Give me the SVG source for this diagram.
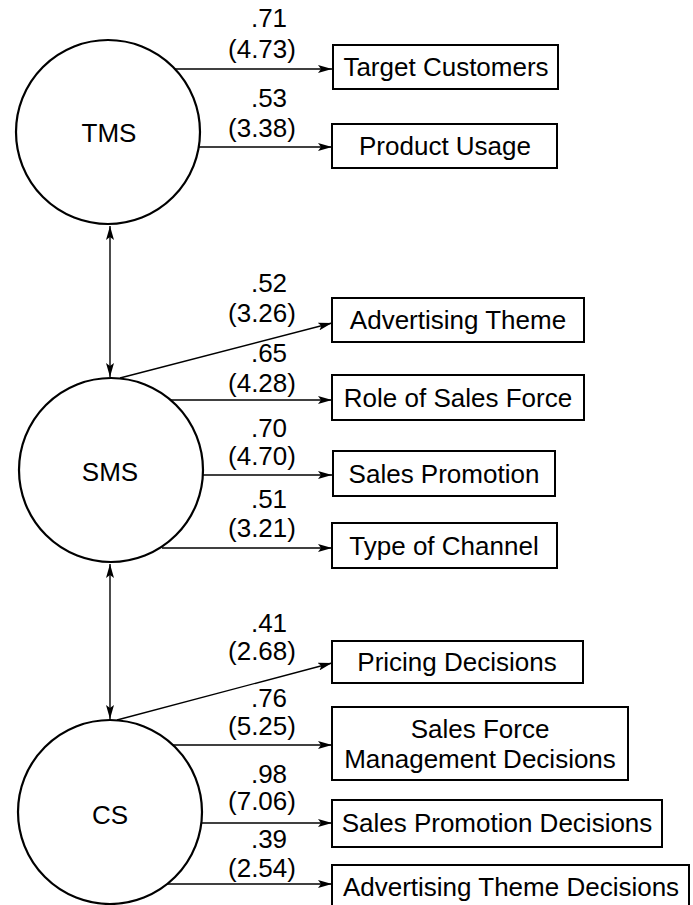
<svg xmlns="http://www.w3.org/2000/svg" width="693" height="905" viewBox="0 0 693 905">
  <style>
    text { font-family: "Liberation Sans", Arial, sans-serif; font-size: 26px; fill: #000; }
    .mid { text-anchor: middle; }
    .factor { fill: #fff; stroke: #000; stroke-width: 2.2; }
    .box { fill: #fff; stroke: #000; stroke-width: 2; }
    .edge { stroke: #000; stroke-width: 1.4; fill: none; }
  </style>
  <defs>
    <marker id="head" viewBox="0 0 14 8" refX="14" refY="4" markerWidth="14" markerHeight="8" markerUnits="userSpaceOnUse" orient="auto-start-reverse">
      <path d="M0,0 L14,4 L0,8 L3,4 Z" fill="#000"/>
    </marker>
  </defs>
  <rect width="693" height="905" fill="#fff"/>

  <!-- connectors and loadings -->
  <g id="connectors">
    <!-- factor correlations -->
    <line class="edge" x1="110" y1="226" x2="110" y2="377" marker-start="url(#head)" marker-end="url(#head)"/>
    <line class="edge" x1="110" y1="564" x2="110" y2="719" marker-start="url(#head)" marker-end="url(#head)"/>

    <!-- TMS loadings -->
    <line class="edge" x1="175" y1="69" x2="332" y2="69" marker-end="url(#head)"/>
    <line class="edge" x1="199" y1="147" x2="332" y2="147" marker-end="url(#head)"/>
    <!-- SMS loadings -->
    <line class="edge" x1="120" y1="378" x2="332" y2="323" marker-end="url(#head)"/>
    <line class="edge" x1="171" y1="400" x2="332" y2="400" marker-end="url(#head)"/>
    <line class="edge" x1="203" y1="475" x2="332" y2="475" marker-end="url(#head)"/>
    <line class="edge" x1="162" y1="548" x2="332" y2="548" marker-end="url(#head)"/>
    <!-- CS loadings -->
    <line class="edge" x1="117" y1="720" x2="332" y2="663" marker-end="url(#head)"/>
    <line class="edge" x1="173" y1="745" x2="332" y2="745" marker-end="url(#head)"/>
    <line class="edge" x1="201" y1="823" x2="332" y2="823" marker-end="url(#head)"/>
    <line class="edge" x1="165" y1="884" x2="332" y2="884" marker-end="url(#head)"/>

    <g id="loadings">
      <text class="mid" x="269" y="27">.71</text>
      <text class="mid" x="262" y="58">(4.73)</text>
      <text class="mid" x="269" y="107">.53</text>
      <text class="mid" x="262" y="137">(3.38)</text>

      <text class="mid" x="269" y="292">.52</text>
      <text class="mid" x="262" y="322">(3.26)</text>
      <text class="mid" x="269" y="362">.65</text>
      <text class="mid" x="262" y="392">(4.28)</text>
      <text class="mid" x="269" y="437">.70</text>
      <text class="mid" x="262" y="465">(4.70)</text>
      <text class="mid" x="269" y="508">.51</text>
      <text class="mid" x="262" y="537">(3.21)</text>

      <text class="mid" x="269" y="632">.41</text>
      <text class="mid" x="262" y="660">(2.68)</text>
      <text class="mid" x="269" y="707">.76</text>
      <text class="mid" x="262" y="735">(5.25)</text>
      <text class="mid" x="269" y="783">.98</text>
      <text class="mid" x="262" y="810">(7.06)</text>
      <text class="mid" x="269" y="848">.39</text>
      <text class="mid" x="262" y="877">(2.54)</text>
    </g>
  </g>

  <!-- latent factors -->
  <g id="TMS">
    <circle class="factor" cx="108" cy="132" r="92"/>
    <text class="mid" x="109" y="142">TMS</text>
  </g>
  <g id="SMS">
    <circle class="factor" cx="111" cy="470" r="92"/>
    <text class="mid" x="110" y="481">SMS</text>
  </g>
  <g id="CS">
    <circle class="factor" cx="110" cy="812" r="92"/>
    <text class="mid" x="110" y="824">CS</text>
  </g>

  <!-- indicators -->
  <g id="target-customers">
    <rect class="box" x="333" y="45" width="225" height="44"/>
    <text class="mid" x="446" y="76">Target Customers</text>
  </g>
  <g id="product-usage">
    <rect class="box" x="332" y="124" width="225" height="44"/>
    <text class="mid" x="445" y="155">Product Usage</text>
  </g>
  <g id="advertising-theme">
    <rect class="box" x="332" y="298" width="252" height="44"/>
    <text class="mid" x="458" y="329">Advertising Theme</text>
  </g>
  <g id="role-of-sales-force">
    <rect class="box" x="332" y="375" width="252" height="45"/>
    <text class="mid" x="458" y="407">Role of Sales Force</text>
  </g>
  <g id="sales-promotion">
    <rect class="box" x="333" y="451" width="222" height="45"/>
    <text class="mid" x="444" y="483">Sales Promotion</text>
  </g>
  <g id="type-of-channel">
    <rect class="box" x="332" y="523" width="225" height="45"/>
    <text class="mid" x="444" y="555">Type of Channel</text>
  </g>
  <g id="pricing-decisions">
    <rect class="box" x="332" y="641" width="251" height="42"/>
    <text class="mid" x="457" y="671">Pricing Decisions</text>
  </g>
  <g id="sales-force-management-decisions">
    <rect class="box" x="332" y="707" width="296" height="73"/>
    <text class="mid" x="480" y="738">Sales Force</text>
    <text class="mid" x="480" y="768">Management Decisions</text>
  </g>
  <g id="sales-promotion-decisions">
    <rect class="box" x="332" y="800" width="330" height="47"/>
    <text class="mid" x="497" y="832">Sales Promotion Decisions</text>
  </g>
  <g id="advertising-theme-decisions">
    <rect class="box" x="332" y="865" width="357" height="42"/>
    <text class="mid" x="511" y="896">Advertising Theme Decisions</text>
  </g>
</svg>
